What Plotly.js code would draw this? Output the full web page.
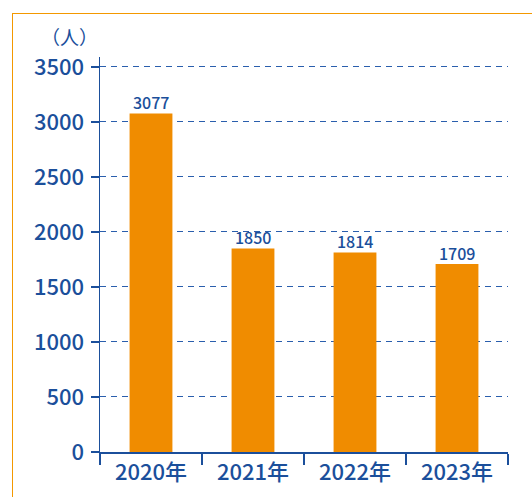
<!DOCTYPE html>
<html><head><meta charset="utf-8">
<script src="https://cdn.plot.ly/plotly-3.0.1.min.js"></script>
<style>
html,body{margin:0;padding:0;background:#fff;}
#frame{position:absolute;left:12px;top:13px;width:540px;height:500px;border-left:1.5px solid #F39800;border-top:1.5px solid #F39800;}
#chart{position:absolute;left:0;top:0;width:532px;height:497px;}
</style></head>
<body>
<div id="frame"></div>
<div id="chart"></div>
<script>
const categories = ["2020年", "2021年", "2022年", "2023年"];
const values = [3077, 1850, 1814, 1709];
const yTicks = [0, 500, 1000, 1500, 2000, 2500, 3000, 3500];
const unitLabel = "（人）";

const blue = "#1B4F9B";
const font = "'Noto Sans CJK JP', 'Noto Sans', sans-serif";

const valueLabels = categories.map((c, i) => ({
  x: c, y: values[i], xref: "x", yref: "y",
  text: String(values[i]), showarrow: false,
  yanchor: "bottom", xanchor: "center", yshift: -3,
  font: {size: 16, color: blue, family: font, weight: 500}
}));

Plotly.newPlot("chart", [{
  type: "bar",
  x: categories,
  y: values,
  marker: {color: "#F08C00"},
  hoverinfo: "skip"
}], {
  width: 532, height: 497,
  margin: {l: 100, r: 24, t: 57, b: 45},
  paper_bgcolor: "rgba(0,0,0,0)",
  plot_bgcolor: "rgba(0,0,0,0)",
  bargap: 0.58,
  showlegend: false,
  font: {family: font, color: blue},
  xaxis: {
    type: "category",
    range: [-0.5, 3.5],
    showline: true, linecolor: blue, linewidth: 2,
    ticks: "outside", tickson: "boundaries", ticklen: 11, tickwidth: 1.5, tickcolor: blue,
    tickfont: {size: 22, color: blue, family: font, weight: 500},
    showgrid: false, zeroline: false, fixedrange: true
  },
  yaxis: {
    range: [0, 3590],
    tickvals: yTicks,
    ticktext: yTicks.map(String),
    showline: true, linecolor: blue, linewidth: 1.5,
    ticks: "outside", ticklen: 8, tickwidth: 1.5, tickcolor: blue,
    ticklabelstandoff: 2,
    tickfont: {size: 22, color: blue, family: font, weight: 500},
    showgrid: true, gridcolor: "#2A5EAD", griddash: "6px,5px", gridwidth: 1,
    zeroline: false, fixedrange: true
  },
  annotations: [{
    text: unitLabel, xref: "paper", yref: "paper",
    x: -0.075, y: 1, yanchor: "bottom", yshift: 5, xanchor: "center",
    showarrow: false, font: {size: 19, color: blue, family: font}
  }].concat(valueLabels)
}, {displayModeBar: false, staticPlot: true});
</script>
</body></html>
